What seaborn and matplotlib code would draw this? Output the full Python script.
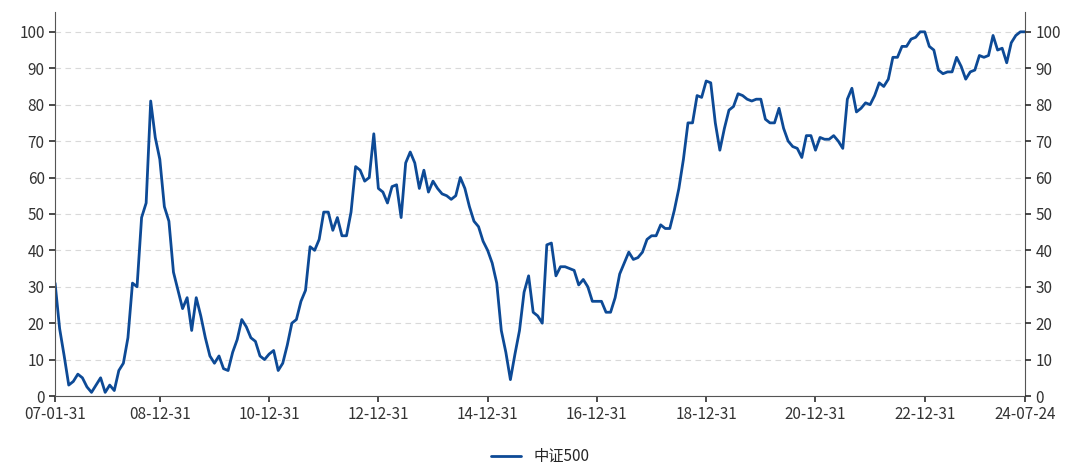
import matplotlib
matplotlib.use("Agg")
import matplotlib.pyplot as plt
import seaborn as sns
import pandas as pd
import numpy as np

values = [31,18.5,11,3,4,6,5,2.5,1,3,5,1,3,1.5,7,9,16,31,30,49,53,81,71,65,52,48,34,29,24,27,18,27,22,16,11,9,11,7.5,7,12,15.5,21,19,16,15,11,10,11.5,12.5,7,9,14,20,21,26,29,41,40,43,50.5,50.5,45.5,49,44,44,50.5,63,62,59,60,72,57,56,53,57.5,58,49,64,67,64,57,62,56,59,57,55.5,55,54,55,60,57,52,48,46.5,42.5,40,36.5,31,18,12,4.5,11.5,18,28.5,33,23,22,20,41.5,42,33,35.5,35.5,35,34.5,30.5,32,30,26,26,26,23,23,27,33.5,36.5,39.5,37.5,38,39.5,43,44,44,47,46,46,51,57,65,75,75,82.5,82,86.5,86,75,67.5,73.5,78.5,79.5,83,82.5,81.5,81,81.5,81.5,76,75,75,79,73.5,70,68.5,68,65.5,71.5,71.5,67.5,71,70.5,70.5,71.5,70,68,81.5,84.5,78,79,80.5,80,82.5,86,85,87,93,93,96,96,98,98.5,100,100,96,95,89.5,88.5,89,89,93,90.5,87,89,89.5,93.5,93,93.5,99,95,95.5,91.5,97,99,100,100]
tick_labels = ["07-01-31","08-12-31","10-12-31","12-12-31","14-12-31","16-12-31","18-12-31","20-12-31","22-12-31","24-07-24"]
series_name = "中证500"

sns.set_theme(style="white")
plt.rcParams['font.family'] = ['Noto Sans CJK SC', 'DejaVu Sans']

df = pd.DataFrame({"idx": np.arange(len(values)), "v": values})
fig = plt.figure(figsize=(10.8, 4.72), dpi=100)
ax = fig.add_axes([0.051, 0.161, 0.898, 0.814])
sns.lineplot(data=df, x="idx", y="v", ax=ax, color="#0d4a96", linewidth=2, label=series_name)
ax.set_xlim(0, len(values) - 1)
ax.set_ylim(0, 105.5)
ticks = [0, 23, 47, 71, 95, 119, 143, 167, 191, len(values) - 1]
ax.set_xticks(ticks)
ax.set_xticklabels(tick_labels)
ax.set_yticks(range(0, 101, 10))
ax.set_xlabel(""); ax.set_ylabel("")
ax.grid(axis="y", linestyle=(0, (5, 4)), color="#d9d9d9", linewidth=0.8)
for s in ["left", "right", "bottom"]:
    ax.spines[s].set_color("#555555"); ax.spines[s].set_linewidth(0.8)
ax.spines["top"].set_visible(False)
ax.tick_params(axis="both", labelsize=11, colors="#333333", length=4, direction="out", left=True, bottom=True)
ax2 = ax.twinx()
ax2.set_ylim(ax.get_ylim())
ax2.set_yticks(range(0, 101, 10))
ax2.tick_params(axis="y", labelsize=11, colors="#333333", length=4, right=True)
for s in ["left", "right", "bottom", "top"]:
    ax2.spines[s].set_visible(False)
ax.legend(loc="upper center", bbox_to_anchor=(0.5, -0.1), frameon=False, fontsize=11, handlelength=2)
fig.savefig("out.png", dpi=100)
